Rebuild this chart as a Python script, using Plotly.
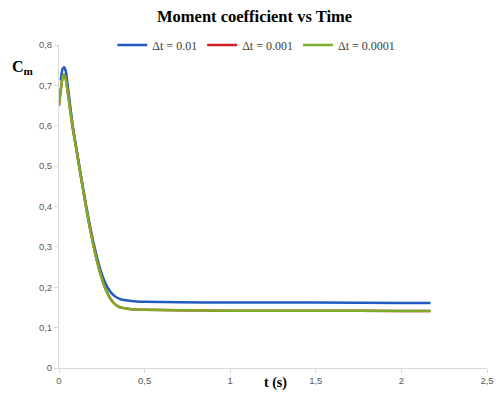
import plotly.graph_objects as go

# Time (s) and moment coefficient for each time step
t_dt_01 = [0.010, 0.020, 0.030, 0.040, 0.055, 0.080, 0.100, 0.120, 0.140, 0.160,
           0.180, 0.200, 0.220, 0.240, 0.260, 0.280, 0.300, 0.320, 0.340, 0.370,
           0.400, 0.450, 0.500, 0.700, 1.000, 1.500, 2.000, 2.170]
cm_dt_01 = [0.712, 0.740, 0.745, 0.735, 0.685, 0.600, 0.548, 0.497, 0.447, 0.399,
            0.354, 0.313, 0.277, 0.246, 0.221, 0.202, 0.189, 0.180, 0.174, 0.169,
            0.167, 0.165, 0.164, 0.163, 0.162, 0.162, 0.161, 0.161]

t_dt_001 = [0.000, 0.010, 0.020, 0.030, 0.040, 0.055, 0.078, 0.100, 0.120, 0.140,
            0.160, 0.180, 0.200, 0.220, 0.240, 0.260, 0.280, 0.300, 0.320, 0.340,
            0.370, 0.400, 0.450, 0.500, 0.700, 1.000, 1.500, 2.000, 2.170]
cm_dt_001 = [0.650, 0.688, 0.718, 0.727, 0.715, 0.672, 0.600, 0.545, 0.494, 0.443,
             0.394, 0.348, 0.306, 0.268, 0.236, 0.209, 0.188, 0.172, 0.161, 0.154,
             0.149, 0.147, 0.145, 0.144, 0.143, 0.142, 0.142, 0.141, 0.141]

t_dt_0001 = [0.000, 0.010, 0.020, 0.030, 0.040, 0.055, 0.078, 0.100, 0.120, 0.140,
             0.160, 0.180, 0.200, 0.220, 0.240, 0.260, 0.280, 0.300, 0.320, 0.340,
             0.370, 0.400, 0.450, 0.500, 0.700, 1.000, 1.500, 2.000, 2.170]
cm_dt_0001 = [0.650, 0.688, 0.718, 0.727, 0.715, 0.672, 0.600, 0.545, 0.494, 0.443,
              0.394, 0.348, 0.306, 0.268, 0.236, 0.209, 0.188, 0.172, 0.161, 0.154,
              0.149, 0.147, 0.145, 0.144, 0.143, 0.142, 0.142, 0.141, 0.141]

series_names = ["Δt = 0.01", "Δt = 0.001", "Δt = 0.0001"]
series_colors = ["#1F5CC0", "#D0202A", "#7CAD2A"]

x_tick_vals = [0, 0.5, 1, 1.5, 2, 2.5]
x_tick_text = ["0", "0,5", "1", "1,5", "2", "2,5"]
y_tick_vals = [0, 0.1, 0.2, 0.3, 0.4, 0.5, 0.6, 0.7, 0.8]
y_tick_text = ["0", "0,1", "0,2", "0,3", "0,4", "0,5", "0,6", "0,7", "0,8"]

fig = go.Figure()
for t, cm, name, color in zip([t_dt_01, t_dt_001, t_dt_0001],
                              [cm_dt_01, cm_dt_001, cm_dt_0001],
                              series_names, series_colors):
    fig.add_trace(go.Scatter(x=t, y=cm, mode="lines", name=name,
                             line=dict(color=color, width=2.5, shape="spline", smoothing=0.4)))

axis_font = dict(family="Liberation Sans", size=9.5, color="#595959")
fig.update_layout(
    width=502, height=394,
    margin=dict(l=59, r=8, t=45, b=25),
    paper_bgcolor="white", plot_bgcolor="white",
    title=dict(text="<b>Moment coefficient vs Time</b>", x=0.507, xanchor="center",
               y=0.958, yanchor="middle",
               font=dict(family="Liberation Serif", size=16.5, color="#000000")),
    legend=dict(orientation="h", x=0.461, xanchor="center", y=1.0, yanchor="middle",
                font=dict(family="Liberation Serif", size=12, color="#404040"),
                itemwidth=30, tracegroupgap=0, bgcolor="rgba(0,0,0,0)"),
    xaxis=dict(range=[0, 2.5], tickvals=x_tick_vals, ticktext=x_tick_text,
               showgrid=False, zeroline=False, showline=True, linecolor="#D9D9D9",
               linewidth=1, ticks="outside", ticklen=4, tickcolor="#D9D9D9",
               tickfont=axis_font),
    yaxis=dict(range=[0, 0.8], tickvals=y_tick_vals, ticktext=y_tick_text,
               showgrid=False, zeroline=False, showline=True, linecolor="#D9D9D9",
               linewidth=1, ticks="outside", ticklen=4, tickcolor="#D9D9D9",
               tickfont=axis_font),
    annotations=[
        dict(text="<b>C<sub>m</sub></b>", xref="paper", yref="paper", x=-0.083, y=0.93,
             xanchor="center", yanchor="middle", showarrow=False,
             font=dict(family="Liberation Serif", size=16, color="#000000")),
        dict(text="<b>t (s)</b>", xref="paper", yref="paper", x=0.507, y=-0.045,
             xanchor="center", yanchor="middle", showarrow=False,
             font=dict(family="Liberation Serif", size=14, color="#000000")),
    ],
)

fig.write_html("out.html")
